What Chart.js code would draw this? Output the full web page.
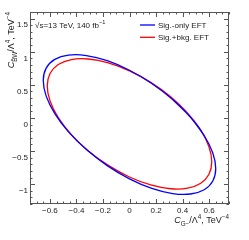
<!DOCTYPE html>
<html>
<head>
<meta charset="utf-8">
<script src="https://cdn.jsdelivr.net/npm/chart.js@4/dist/chart.umd.min.js"></script>
<style>
  html, body { margin: 0; padding: 0; background: #fff; }
  canvas { display: block; }
</style>
</head>
<body>
<canvas id="c" width="249" height="240"></canvas>
<script>
// contour points (C_G- on x, C_B~W on y)
// the contour starts on the long edge and runs a little past its start so the closure is smooth
const sigOnlyX = [0.325, 0.460, 0.563, 0.628, 0.650, 0.628, 0.563, 0.460, 0.325, 0.168, 0.000, -0.168, -0.325,
                  -0.460, -0.563, -0.628, -0.650, -0.628, -0.563, -0.460, -0.325, -0.168, 0.000, 0.168,
                  0.325, 0.460, 0.563];
const sigOnlyY = [0.378, 0.110, -0.165, -0.429, -0.664, -0.853, -0.985, -1.049, -1.042, -0.964, -0.820, -0.620, -0.378,
                  -0.110, 0.165, 0.429, 0.664, 0.853, 0.985, 1.049, 1.042, 0.964, 0.820, 0.620,
                  0.378, 0.110, -0.165];
const sigBkgX = [0.310, 0.438, 0.537, 0.599, 0.620, 0.599, 0.537, 0.438, 0.310, 0.160, 0.000, -0.160, -0.310,
                 -0.438, -0.537, -0.599, -0.620, -0.599, -0.537, -0.438, -0.310, -0.160, 0.000, 0.160,
                 0.310, 0.438, 0.537];
const sigBkgY = [0.419, 0.173, -0.084, -0.335, -0.562, -0.750, -0.886, -0.961, -0.970, -0.913, -0.792, -0.617, -0.399,
                 -0.153, 0.104, 0.355, 0.582, 0.770, 0.906, 0.982, 0.990, 0.933, 0.812, 0.637,
                 0.419, 0.173, -0.084];

const xTicks = [-0.6, -0.4, -0.2, 0, 0.2, 0.4, 0.6];
const yTicks = [-1, -0.5, 0, 0.5, 1, 1.5];
const xRange = [-0.75, 0.75];
const yRange = [-1.2, 1.7];

const FONT = "'Liberation Sans', Arial, sans-serif";
const TXT = '#222';

function pts(xs, ys) {
    return xs.map((x, i) => ({ x: x, y: ys[i] }));
}

function fmt(v) {
    return (v < 0 ? '\u2212' : '') + Math.abs(v);
}

// texte avec indices / exposants
function drawRich(ctx, parts, x, y, size, alignRight) {
    let w = 0;
    const fonts = parts.map(p => {
        const s = (p.sub || p.sup) ? size * 0.7 : size;
        return (p.it ? 'italic ' : '') + s + 'px ' + FONT;
    });
    parts.forEach((p, i) => { ctx.font = fonts[i]; w += ctx.measureText(p.t).width; });
    let cx = alignRight ? x - w : x;
    parts.forEach((p, i) => {
        ctx.font = fonts[i];
        const dy = p.sub ? size * 0.3 : (p.sup ? -size * 0.42 : 0);
        ctx.fillText(p.t, cx, y + dy);
        cx += ctx.measureText(p.t).width;
    });
}

const xTitle = [{ t: 'C', it: true }, { t: 'G\u2212', sub: true }, { t: '/\u039B' }, { t: '4', sup: true },
                { t: ', TeV' }, { t: '\u22124', sup: true }];
const yTitle = [{ t: 'C', it: true }, { t: 'B\u0303W', sub: true }, { t: '/\u039B' }, { t: '4', sup: true },
                { t: ', TeV' }, { t: '\u22124', sup: true }];

const decorations = {
    id: 'decorations',
    afterDraw(chart) {
        const { ctx, chartArea: a, scales: { x, y } } = chart;
        ctx.save();
        // cadre + graduations
        ctx.strokeStyle = '#555';
        ctx.lineWidth = 1;
        ctx.strokeRect(a.left + 0.5, a.top + 0.5, a.right - a.left - 1, a.bottom - a.top - 1);
        ctx.beginPath();
        for (let i = 0; i <= 30; i++) {
            const v = xRange[0] + i * 0.05;
            const px = Math.round(x.getPixelForValue(v)) + 0.5;
            const len = (i + 1) % 4 === 0 ? 5 : 2.5;
            ctx.moveTo(px, a.bottom); ctx.lineTo(px, a.bottom - len);
            ctx.moveTo(px, a.top); ctx.lineTo(px, a.top + len);
        }
        for (let i = 0; i <= 29; i++) {
            const v = yRange[0] + i * 0.1;
            const py = Math.round(y.getPixelForValue(v)) + 0.5;
            const len = (i + 2) % 5 === 0 ? 5 : 2.5;
            ctx.moveTo(a.left, py); ctx.lineTo(a.left + len, py);
            ctx.moveTo(a.right, py); ctx.lineTo(a.right - len, py);
        }
        ctx.stroke();

        ctx.fillStyle = TXT;
        ctx.textBaseline = 'alphabetic';
        // titres des axes
        drawRich(ctx, xTitle, a.right, 223, 9, true);
        ctx.save();
        ctx.translate(14, a.top);
        ctx.rotate(-Math.PI / 2);
        drawRich(ctx, yTitle, 0, 0, 9, true);
        ctx.restore();

        // energie / luminosite
        drawRich(ctx, [{ t: '\u221As=13 TeV, 140 fb' }, { t: '\u22121', sup: true }], 35, 27.5, 8, false);

        // legende
        chart.data.datasets.forEach((ds, i) => {
            const ly = 25 + i * 12.3;
            ctx.strokeStyle = ds.borderColor;
            ctx.lineWidth = 1.3;
            ctx.beginPath();
            ctx.moveTo(140, ly); ctx.lineTo(155, ly);
            ctx.stroke();
            ctx.fillStyle = TXT;
            ctx.font = '8px ' + FONT;
            ctx.textBaseline = 'middle';
            ctx.fillText(ds.label, 158, ly + 0.5);
        });
        ctx.restore();
    }
};

new Chart(document.getElementById('c'), {
    type: 'scatter',
    data: {
        datasets: [
            { label: 'Sig.-only EFT', data: pts(sigOnlyX, sigOnlyY), showLine: true, borderColor: '#0000ff',
              borderWidth: 1.3, pointRadius: 0, tension: 0.35, fill: false },
            { label: 'Sig.+bkg. EFT', data: pts(sigBkgX, sigBkgY), showLine: true, borderColor: '#ff0000',
              borderWidth: 1.3, pointRadius: 0, tension: 0.35, fill: false }
        ]
    },
    options: {
        responsive: false,
        animation: false,
        devicePixelRatio: 1,
        layout: { padding: { left: 0, top: 12, right: 20, bottom: 0 } },
        plugins: { legend: { display: false }, tooltip: { enabled: false }, title: { display: false } },
        scales: {
            x: {
                type: 'linear', min: xRange[0], max: xRange[1],
                grid: { display: false, drawTicks: false }, border: { display: false },
                afterBuildTicks: s => { s.ticks = xTicks.map(v => ({ value: v })); },
                afterFit: s => { s.height = 36; },
                ticks: { padding: 2, color: TXT, font: { family: FONT, size: 8 }, maxRotation: 0, callback: fmt }
            },
            y: {
                type: 'linear', min: yRange[0], max: yRange[1],
                grid: { display: false, drawTicks: false }, border: { display: false },
                afterBuildTicks: s => { s.ticks = yTicks.map(v => ({ value: v })); },
                afterFit: s => { s.width = 30; },
                ticks: { padding: 2, color: TXT, font: { family: FONT, size: 8 }, callback: fmt }
            }
        }
    },
    plugins: [decorations]
});
</script>
</body>
</html>
